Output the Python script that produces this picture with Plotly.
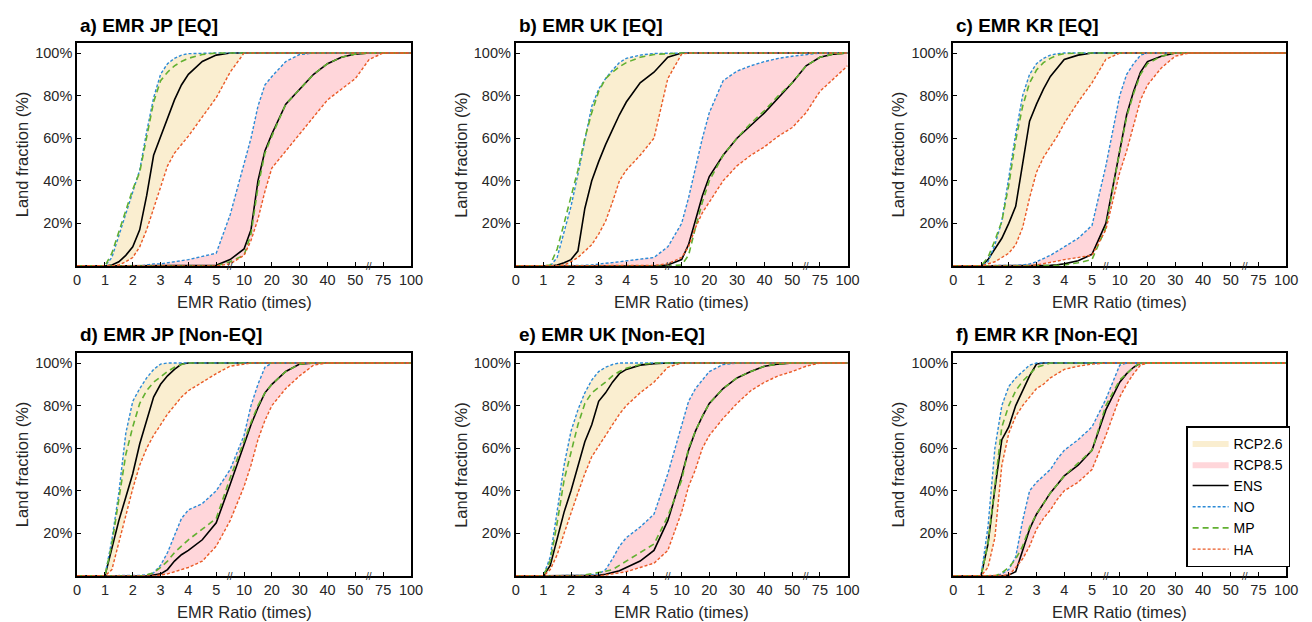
import numpy as np
import plotly.graph_objects as go

# ---------------- axis definition (broken EMR axis) ----------------
TICK_VALUES = [0, 1, 2, 3, 4, 5, 10, 20, 30, 40, 50, 75, 100]
TICK_LABELS = ["0", "1", "2", "3", "4", "5", "10", "20", "30", "40", "50", "75", "100"]
Y_TICKS = [20, 40, 60, 80, 100]
Y_LABELS = ["20%", "40%", "60%", "80%", "100%"]

# EMR ratio grid at which the cumulative land fractions (%) were read
EMR_GRID = [0, 1, 1.25, 1.5, 1.75, 2, 2.25, 2.5, 2.75, 3, 3.25, 3.5, 3.75, 4, 4.5, 5,
            7.5, 10, 12.5, 15, 17.5, 20, 25, 30, 35, 40, 45, 50, 62.5, 75, 87.5, 100]

# ---------------- a) JP [EQ] ----------------
JP_EQ_26_ENS = [0, 0, 0.5, 2, 5, 9, 17, 33, 52, 61, 69, 78, 85, 90, 96, 99,
                100, 100, 100, 100, 100, 100, 100, 100, 100, 100, 100, 100, 100, 100, 100, 100]
JP_EQ_26_NO = [0, 0, 4, 14, 24, 34, 45, 63, 79, 90, 95, 97.5, 99, 99.7, 100, 100,
               100, 100, 100, 100, 100, 100, 100, 100, 100, 100, 100, 100, 100, 100, 100, 100]
JP_EQ_26_MP = [0, 0, 6, 16, 26, 36, 44, 61, 77, 87, 91, 94, 96, 97.5, 99.3, 100,
               100, 100, 100, 100, 100, 100, 100, 100, 100, 100, 100, 100, 100, 100, 100, 100]
JP_EQ_26_HA = [0, 0, 0, 0.5, 2, 4, 9, 17, 27, 38, 47, 53, 57, 61, 70, 79,
               91, 100, 100, 100, 100, 100, 100, 100, 100, 100, 100, 100, 100, 100, 100, 100]
JP_EQ_85_ENS = [0, 0, 0, 0, 0, 0, 0, 0, 0, 0, 0, 0, 0, 0, 0, 0.3,
                3, 8, 17, 40, 54, 62, 76, 83, 90, 95, 98, 99.5, 100, 100, 100, 100]
JP_EQ_85_NO = [0, 0, 0, 0, 0, 0, 0, 0.5, 1, 1, 1.5, 2, 2.5, 3, 4.5, 6,
               24, 48, 60, 75, 85, 89, 96, 99.3, 100, 100, 100, 100, 100, 100, 100, 100]
JP_EQ_85_MP = [0, 0, 0, 0, 0, 0, 0, 0, 0, 0, 0, 0, 0, 0, 0, 0,
               2, 5, 15, 37, 53, 61, 76, 83, 90, 95, 98, 99.5, 100, 100, 100, 100]
JP_EQ_85_HA = [0, 0, 0, 0, 0, 0, 0, 0, 0, 0, 0, 0, 0, 0, 0, 0,
               1, 5, 12, 22, 35, 46, 54, 62, 70, 78, 83, 88, 97, 100, 100, 100]

# ---------------- b) UK [EQ] ----------------
UK_EQ_26_ENS = [0, 0, 0, 0.5, 1.5, 3, 7, 27, 40, 49, 57, 64, 71, 77, 86, 91,
                98, 100, 100, 100, 100, 100, 100, 100, 100, 100, 100, 100, 100, 100, 100, 100]
UK_EQ_26_NO = [0, 0, 0, 4, 16, 28, 43, 59, 75, 83, 88, 92, 95.5, 97.5, 99, 99.8,
               100, 100, 100, 100, 100, 100, 100, 100, 100, 100, 100, 100, 100, 100, 100, 100]
UK_EQ_26_MP = [0, 0, 0.5, 8, 20, 32, 45, 60, 72, 82, 88, 91, 93.5, 95.5, 98, 99.3,
               99.8, 100, 100, 100, 100, 100, 100, 100, 100, 100, 100, 100, 100, 100, 100, 100]
UK_EQ_26_HA = [0, 0, 0, 0, 0.5, 2, 4, 7, 10, 15, 21, 30, 40, 45, 52, 60,
               88, 99.5, 100, 100, 100, 100, 100, 100, 100, 100, 100, 100, 100, 100, 100, 100]
UK_EQ_85_ENS = [0, 0, 0, 0, 0, 0, 0, 0, 0, 0, 0, 0, 0, 0, 0, 0,
                0.5, 3, 10, 22, 33, 42, 52, 60, 66, 72, 79, 86, 94, 98, 99.5, 100]
UK_EQ_85_NO = [0, 0, 0, 0, 0, 0, 0, 0.3, 0.5, 1, 1.3, 1.6, 2, 2.3, 3, 4,
               9, 20, 32, 46, 60, 72, 87, 91.5, 94, 96, 97.5, 98.5, 99.3, 100, 100, 100]
UK_EQ_85_MP = [0, 0, 0, 0, 0, 0, 0, 0, 0, 0, 0, 0, 0, 0, 0, 0,
               0, 0.5, 5, 18, 30, 40, 52, 60, 67, 73, 80, 86, 94, 98, 99.5, 100]
UK_EQ_85_HA = [0, 0, 0, 0, 0, 0, 0, 0, 0, 0, 0, 0, 0, 0, 0, 0.3,
               1, 4, 9, 18, 25, 30, 40, 47, 52, 56, 61, 65, 72, 82, 88, 94]

# ---------------- c) KR [EQ] ----------------
KR_EQ_26_ENS = [0, 0, 3, 8, 13, 20, 28, 48, 68, 76, 83, 89, 93, 97, 99, 100,
                100, 100, 100, 100, 100, 100, 100, 100, 100, 100, 100, 100, 100, 100, 100, 100]
KR_EQ_26_NO = [0, 0, 2, 10, 21, 42, 62, 80, 90, 95, 97.5, 99, 99.7, 100, 100, 100,
               100, 100, 100, 100, 100, 100, 100, 100, 100, 100, 100, 100, 100, 100, 100, 100]
KR_EQ_26_MP = [0, 0, 4, 12, 21, 38, 59, 75, 86, 92, 95.5, 97.5, 99, 99.7, 100, 100,
               100, 100, 100, 100, 100, 100, 100, 100, 100, 100, 100, 100, 100, 100, 100, 100]
KR_EQ_26_HA = [0, 0, 1, 2, 4, 6, 10, 18, 32, 44, 51, 56, 61, 67, 77, 86,
               97, 100, 100, 100, 100, 100, 100, 100, 100, 100, 100, 100, 100, 100, 100, 100]
KR_EQ_85_ENS = [0, 0, 0, 0, 0, 0, 0, 0, 0, 0, 0, 0.3, 0.6, 1, 2.5, 5.5,
                20, 55, 71, 82, 91, 96, 98.5, 100, 100, 100, 100, 100, 100, 100, 100, 100]
KR_EQ_85_NO = [0, 0, 0, 0, 0, 0, 0.3, 0.5, 1, 2, 3.5, 5, 7, 9, 13, 19,
               47, 80, 90, 95, 99, 100, 100, 100, 100, 100, 100, 100, 100, 100, 100, 100]
KR_EQ_85_MP = [0, 0, 0, 0, 0, 0, 0, 0, 0, 0, 0, 0, 0.2, 0.5, 1.5, 3,
               18, 54, 70, 81, 90, 95, 98.5, 100, 100, 100, 100, 100, 100, 100, 100, 100]
KR_EQ_85_HA = [0, 0, 0, 0, 0, 0, 0, 0, 0, 0.5, 1, 1.5, 2.3, 3, 4, 5,
               17, 44, 54, 66, 78, 85, 93, 98.5, 100, 100, 100, 100, 100, 100, 100, 100]

# ---------------- d) JP [Non-EQ] ----------------
JP_NEQ_26_ENS = [0, 0, 13, 26, 37, 48, 62, 73, 84, 90, 94, 97, 99.5, 100, 100, 100,
                 100, 100, 100, 100, 100, 100, 100, 100, 100, 100, 100, 100, 100, 100, 100, 100]
JP_NEQ_26_NO = [0, 0, 17, 39, 67, 82, 88, 93, 97, 99.5, 100, 100, 100, 100, 100, 100,
                100, 100, 100, 100, 100, 100, 100, 100, 100, 100, 100, 100, 100, 100, 100, 100]
JP_NEQ_26_MP = [0, 0, 15, 35, 57, 70, 81, 87, 91, 93.5, 96, 98, 99.3, 100, 100, 100,
                100, 100, 100, 100, 100, 100, 100, 100, 100, 100, 100, 100, 100, 100, 100, 100]
JP_NEQ_26_HA = [0, 0, 3, 16, 29, 41, 52, 60, 66, 71, 76, 80, 84, 87, 91, 95,
                98.5, 99.5, 100, 100, 100, 100, 100, 100, 100, 100, 100, 100, 100, 100, 100, 100]
JP_NEQ_85_ENS = [0, 0, 0, 0, 0, 0, 0, 0, 0.5, 1, 3, 7, 10, 12, 17, 25,
                 43, 62, 71, 79, 86, 90, 96, 99.5, 100, 100, 100, 100, 100, 100, 100, 100]
JP_NEQ_85_NO = [0, 0, 0, 0, 0, 0, 0.3, 0.5, 1.5, 5, 11, 19, 27, 31, 34, 40,
                50, 66, 80, 90, 98, 100, 100, 100, 100, 100, 100, 100, 100, 100, 100, 100]
JP_NEQ_85_MP = [0, 0, 0, 0, 0, 0, 0, 0.5, 1.5, 4, 7, 11, 14, 17, 22, 27,
                46, 64, 72, 80, 86, 90, 96, 99.5, 100, 100, 100, 100, 100, 100, 100, 100]
JP_NEQ_85_HA = [0, 0, 0, 0, 0, 0, 0, 0, 0, 0.5, 1, 2, 3, 4, 7, 14,
                26, 42, 52, 64, 73, 80, 88, 94, 99, 100, 100, 100, 100, 100, 100, 100]

# ---------------- e) UK [Non-EQ] ----------------
UK_NEQ_26_ENS = [0, 0, 5, 18, 30, 40, 52, 63, 71, 82, 86, 91, 95, 97, 99, 99.7,
                 100, 100, 100, 100, 100, 100, 100, 100, 100, 100, 100, 100, 100, 100, 100, 100]
UK_NEQ_26_NO = [0, 0, 9, 30, 52, 68, 78, 86, 92, 96, 98, 99.3, 100, 100, 100, 100,
                100, 100, 100, 100, 100, 100, 100, 100, 100, 100, 100, 100, 100, 100, 100, 100]
UK_NEQ_26_MP = [0, 0, 7, 25, 45, 58, 71, 81, 86, 88.5, 91, 94, 96, 97.5, 99.3, 100,
                100, 100, 100, 100, 100, 100, 100, 100, 100, 100, 100, 100, 100, 100, 100, 100]
UK_NEQ_26_HA = [0, 0, 3, 10, 20, 30, 39, 48, 56, 61, 66, 71, 76, 80, 86, 91,
                98, 100, 100, 100, 100, 100, 100, 100, 100, 100, 100, 100, 100, 100, 100, 100]
UK_NEQ_85_ENS = [0, 0, 0, 0, 0, 0, 0, 0, 0, 0.3, 0.8, 1.5, 2.5, 4, 7, 12,
                 26, 47, 59, 68, 75, 81, 88, 93, 96, 98.5, 99.5, 100, 100, 100, 100, 100]
UK_NEQ_85_NO = [0, 0, 0, 0, 0, 0, 0, 0.3, 0.6, 1, 3, 8, 14, 18, 23, 29,
                48, 71, 82, 88, 92, 96, 99.3, 100, 100, 100, 100, 100, 100, 100, 100, 100]
UK_NEQ_85_MP = [0, 0, 0, 0, 0, 0, 0, 0.5, 1, 1.5, 2.2, 3, 5, 7, 11, 15,
                28, 45, 60, 68, 75, 81, 88, 93, 96, 98.5, 99.5, 100, 100, 100, 100, 100]
UK_NEQ_85_HA = [0, 0, 0, 0, 0, 0, 0, 0, 0, 0, 0.5, 1, 1.5, 2, 4, 6,
                12, 30, 42, 50, 60, 66, 74, 81, 87, 91, 94, 96, 98.5, 100, 100, 100]

# ---------------- f) KR [Non-EQ] ----------------
KR_NEQ_26_ENS = [0, 0, 15, 41, 64, 70, 80, 87, 94, 99.5, 100, 100, 100, 100, 100, 100,
                 100, 100, 100, 100, 100, 100, 100, 100, 100, 100, 100, 100, 100, 100, 100, 100]
KR_NEQ_26_NO = [0, 0, 23, 60, 80, 89, 93, 96, 99, 100, 100, 100, 100, 100, 100, 100,
                100, 100, 100, 100, 100, 100, 100, 100, 100, 100, 100, 100, 100, 100, 100, 100]
KR_NEQ_26_MP = [0, 0, 15, 43, 70, 80, 87, 91.5, 95, 98, 99, 100, 100, 100, 100, 100,
                100, 100, 100, 100, 100, 100, 100, 100, 100, 100, 100, 100, 100, 100, 100, 100]
KR_NEQ_26_HA = [0, 0, 4, 18, 52, 67, 75, 80, 84, 88, 90, 93, 95, 97, 98.5, 99.5,
                100, 100, 100, 100, 100, 100, 100, 100, 100, 100, 100, 100, 100, 100, 100, 100]
KR_NEQ_85_ENS = [0, 0, 0, 0, 0, 0.5, 2, 12, 22, 29, 34, 39, 43, 47, 52, 59,
                 78, 91, 95, 98, 100, 100, 100, 100, 100, 100, 100, 100, 100, 100, 100, 100]
KR_NEQ_85_NO = [0, 0, 0, 0, 1, 3, 9, 26, 40, 44, 47, 50, 55, 59, 64, 70,
                83, 99, 100, 100, 100, 100, 100, 100, 100, 100, 100, 100, 100, 100, 100, 100]
KR_NEQ_85_MP = [0, 0, 0, 0, 1.5, 4, 8, 14, 23, 29, 34, 39, 43, 47, 53, 59,
                80, 92, 95, 98, 100, 100, 100, 100, 100, 100, 100, 100, 100, 100, 100, 100]
KR_NEQ_85_HA = [0, 0, 0, 0, 0, 0.3, 4, 8, 14, 22, 27, 31, 36, 40, 44, 50,
                66, 84, 90, 95, 99, 100, 100, 100, 100, 100, 100, 100, 100, 100, 100, 100]

PANEL_TITLES = ["a) EMR JP [EQ]", "b) EMR UK [EQ]", "c) EMR KR [EQ]",
                "d) EMR JP [Non-EQ]", "e) EMR UK [Non-EQ]", "f) EMR KR [Non-EQ]"]

PANEL_DATA = [
    (JP_EQ_26_ENS, JP_EQ_26_NO, JP_EQ_26_MP, JP_EQ_26_HA, JP_EQ_85_ENS, JP_EQ_85_NO, JP_EQ_85_MP, JP_EQ_85_HA),
    (UK_EQ_26_ENS, UK_EQ_26_NO, UK_EQ_26_MP, UK_EQ_26_HA, UK_EQ_85_ENS, UK_EQ_85_NO, UK_EQ_85_MP, UK_EQ_85_HA),
    (KR_EQ_26_ENS, KR_EQ_26_NO, KR_EQ_26_MP, KR_EQ_26_HA, KR_EQ_85_ENS, KR_EQ_85_NO, KR_EQ_85_MP, KR_EQ_85_HA),
    (JP_NEQ_26_ENS, JP_NEQ_26_NO, JP_NEQ_26_MP, JP_NEQ_26_HA, JP_NEQ_85_ENS, JP_NEQ_85_NO, JP_NEQ_85_MP, JP_NEQ_85_HA),
    (UK_NEQ_26_ENS, UK_NEQ_26_NO, UK_NEQ_26_MP, UK_NEQ_26_HA, UK_NEQ_85_ENS, UK_NEQ_85_NO, UK_NEQ_85_MP, UK_NEQ_85_HA),
    (KR_NEQ_26_ENS, KR_NEQ_26_NO, KR_NEQ_26_MP, KR_NEQ_26_HA, KR_NEQ_85_ENS, KR_NEQ_85_NO, KR_NEQ_85_MP, KR_NEQ_85_HA),
]

# ---------------- styles ----------------
W, H = 1312, 622
FONT = "Arial, Liberation Sans, Helvetica, sans-serif"
FILL_26 = "rgb(250,238,208)"
FILL_85 = "rgb(255,214,218)"
C_ENS = "#000000"
C_NO = "#2b8ad6"
C_MP = "#62b030"
C_HA = "#ea5a26"
COL_PX = [(74, 412), (518, 854), (961, 1298)]
ROW_PX = [(43, 266), (353, 576)]
Y_MAX = 104.7


def emr_to_axis(values):
    # broken axis: equally spaced tick labels, piecewise-linear in between
    return np.interp(values, TICK_VALUES, np.arange(len(TICK_VALUES)))


xpos = emr_to_axis(EMR_GRID)
fig = go.Figure()
annotations = []
layout_axes = {}

for k, (title, data) in enumerate(zip(PANEL_TITLES, PANEL_DATA)):
    r, c = divmod(k, 3)
    n = "" if k == 0 else str(k + 1)
    xa, ya = "x" + n, "y" + n
    last = (k == 5)
    ens26, no26, mp26, ha26, ens85, no85, mp85, ha85 = [np.array(d, float) for d in data]

    # bands between NO and HA
    for nm, no, ha, fc in (("RCP2.6", no26, ha26, FILL_26), ("RCP8.5", no85, ha85, FILL_85)):
        fig.add_trace(go.Scatter(
            x=np.concatenate([xpos, xpos[::-1]]), y=np.concatenate([no, ha[::-1]]),
            fill="toself", fillcolor=fc, line=dict(width=0, color=fc), mode="lines",
            name=nm, showlegend=last, hoverinfo="skip", xaxis=xa, yaxis=ya))
    for nm, pair, col, dash, w in (("ENS", (ens26, ens85), C_ENS, "solid", 1.6),
                                   ("NO", (no26, no85), C_NO, "3px,2px", 1.4),
                                   ("MP", (mp26, mp85), C_MP, "6px,4px", 1.6),
                                   ("HA", (ha26, ha85), C_HA, "3px,2px", 1.4)):
        for j, yv in enumerate(pair):
            fig.add_trace(go.Scatter(
                x=xpos, y=yv, mode="lines", name=nm,
                line=dict(color=col, width=w, dash=dash),
                showlegend=(last and j == 0), xaxis=xa, yaxis=ya))

    x0, x1 = COL_PX[c]
    y0, y1 = ROW_PX[r]
    dom_x = [x0 / W, x1 / W]
    dom_y = [1 - y1 / H, 1 - y0 / H]
    axis_common = dict(showgrid=False, zeroline=False, showline=True, linecolor="black",
                       linewidth=1.8, mirror=True, ticks="inside", ticklen=4, tickwidth=1,
                       tickcolor="black", tickfont=dict(family=FONT, size=14.5, color="#262626"))
    layout_axes["xaxis" + n] = dict(axis_common, domain=dom_x, anchor=ya, range=[0, 12],
                                    tickmode="array", tickvals=list(range(len(TICK_VALUES))),
                                    ticktext=TICK_LABELS)
    layout_axes["yaxis" + n] = dict(axis_common, domain=dom_y, anchor=xa, range=[0, Y_MAX],
                                    tickmode="array", tickvals=Y_TICKS, ticktext=Y_LABELS)

    # panel title
    annotations.append(dict(text="<b>" + title + "</b>", x=(x0 + 1) / W, y=1 - (y0 - 18) / H,
                            xref="paper", yref="paper", xanchor="left", yanchor="middle",
                            showarrow=False, font=dict(family=FONT, size=19, color="black")))
    # axis titles
    annotations.append(dict(text="EMR Ratio (times)", x=(x0 + x1) / 2 / W, y=1 - (y1 + 36) / H,
                            xref="paper", yref="paper", xanchor="center", yanchor="middle",
                            showarrow=False, font=dict(family=FONT, size=16.5, color="#262626")))
    annotations.append(dict(text="Land fraction (%)", x=(x0 - 56) / W, y=1 - (y0 + y1) / 2 / H,
                            xref="paper", yref="paper", xanchor="center", yanchor="middle",
                            textangle=-90, showarrow=False,
                            font=dict(family=FONT, size=16.5, color="#262626")))
    # axis-break marks
    for b in (5.5, 10.5):
        annotations.append(dict(text="//", x=b, y=0, xref=xa, yref=ya, xanchor="center",
                                yanchor="middle", showarrow=False,
                                font=dict(family=FONT, size=10, color="#262626")))

fig.update_layout(
    width=W, height=H, margin=dict(l=0, r=0, t=0, b=0),
    paper_bgcolor="white", plot_bgcolor="white",
    annotations=annotations,
    legend=dict(x=1302 / W, y=1 - 567 / H, xanchor="right", yanchor="bottom",
                bgcolor="white", bordercolor="black", borderwidth=1.5,
                font=dict(family=FONT, size=14, color="black"), itemwidth=36,
                tracegroupgap=0),
    **layout_axes)

fig.write_html("out.html", config={"displayModeBar": False},
               post_script="document.body.style.margin='0';document.body.style.overflow='hidden';")
